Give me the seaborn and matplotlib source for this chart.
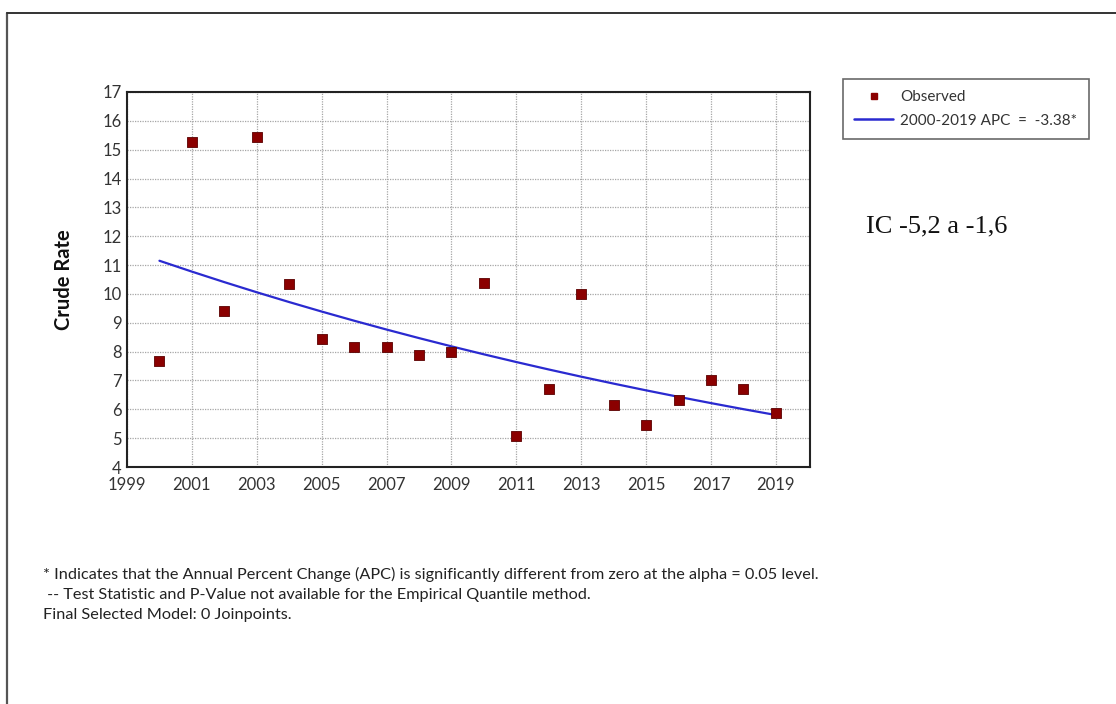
import numpy as np
import pandas as pd
import matplotlib
matplotlib.use("Agg")
import matplotlib.pyplot as plt
import seaborn as sns
from matplotlib.lines import Line2D

# Observed crude rates by year
years = [2000, 2001, 2002, 2003, 2004, 2005, 2006, 2007, 2008, 2009,
         2010, 2011, 2012, 2013, 2014, 2015, 2016, 2017, 2018, 2019]
observed = [7.69, 15.28, 9.42, 15.44, 10.33, 8.45, 8.15, 8.16, 7.88, 7.98,
            10.37, 5.08, 6.69, 9.98, 6.15, 5.45, 6.31, 7.02, 6.69, 5.86]

# Joinpoint model: single segment with constant annual percent change
apc = -3.38
fit_start = 11.15
fit_label = "2000-2019 APC  =  -3.38*"
ci_text = "IC -5,2 a -1,6"

x_ticks = list(range(1999, 2020, 2))
y_ticks = list(range(4, 18))

footnotes = [
    "* Indicates that the Annual Percent Change (APC) is significantly different from zero at the alpha = 0.05 level.",
    " -- Test Statistic and P-Value not available for the Empirical Quantile method.",
    "Final Selected Model: 0 Joinpoints.",
]

df_obs = pd.DataFrame({"year": years, "rate": observed})
fit_years = np.array(years, dtype=float)
df_fit = pd.DataFrame({
    "year": fit_years,
    "rate": fit_start * (1 + apc / 100.0) ** (fit_years - years[0]),
})

sns.set_theme(style="white")
plt.rcParams["font.family"] = ["Lato", "DejaVu Sans"]

fig = plt.figure(figsize=(11.16, 7.04), dpi=100)
fig.patch.set_facecolor("white")

# outer frame lines (left and top)
fig.add_artist(Line2D([7 / 1116, 7 / 1116], [0, 1 - 13 / 704], color="#555555", lw=1.6,
                      transform=fig.transFigure))
fig.add_artist(Line2D([7 / 1116, 1], [1 - 13 / 704, 1 - 13 / 704], color="#333333", lw=1.4,
                      transform=fig.transFigure))

ax = fig.add_axes([127 / 1116, 1 - 467 / 704, (810 - 127) / 1116, (467 - 92) / 704])

sns.lineplot(data=df_fit, x="year", y="rate", ax=ax, color="#2a2ad0", lw=1.6,
             legend=False, zorder=3)
sns.scatterplot(data=df_obs, x="year", y="rate", ax=ax, marker="s", s=55,
                color="#8b0000", edgecolor="#5a0000", linewidth=0.6, legend=False, zorder=4)

ax.set_xlim(1999, 2020.05)
ax.set_ylim(4, 17)
ax.set_xticks(x_ticks)
ax.set_yticks(y_ticks)
ax.set_xticklabels([str(t) for t in x_ticks])
ax.set_yticklabels([str(t) for t in y_ticks])
ax.tick_params(axis="both", length=0, labelsize=12, colors="#333333")
ax.tick_params(axis="x", pad=7)
ax.tick_params(axis="y", pad=4)
ax.grid(True, color="#a6a6a6", linestyle=(0, (1, 1)), linewidth=0.9)
ax.set_axisbelow(True)
for sp in ax.spines.values():
    sp.set_visible(True)
    sp.set_color("#222222")
    sp.set_linewidth(1.5)
ax.set_xlabel("")
ax.set_ylabel("Crude Rate", fontsize=14.5, fontweight="bold", color="#111111")
ax.yaxis.set_label_coords(-53 / 683, 0.5)

# legend box
handles = [
    Line2D([], [], marker="s", color="#8b0000", linestyle="none", markersize=5),
    Line2D([], [], color="#2a2ad0", lw=1.8),
]
leg = fig.legend(handles, ["Observed", fit_label], loc="upper left",
                 bbox_to_anchor=(843 / 1116, 1 - 79 / 704), frameon=True, fontsize=11,
                 handlelength=2.5, handletextpad=0.5, borderpad=0.75, labelspacing=0.6,
                 fancybox=False, borderaxespad=0)
leg.get_frame().set_edgecolor("#444444")
leg.get_frame().set_linewidth(1.2)
for t in leg.get_texts():
    t.set_color("#333333")

fig.text(866 / 1116, 1 - 226 / 704, ci_text, fontsize=19, family="Liberation Serif",
         color="#111111", va="center", ha="left")

for i, line in enumerate(footnotes):
    fig.text(43 / 1116, 1 - (574 + 20.5 * i) / 704, line, fontsize=11.7,
             color="#222222", va="center", ha="left")

fig.savefig("out.png", dpi=100, facecolor="white")
